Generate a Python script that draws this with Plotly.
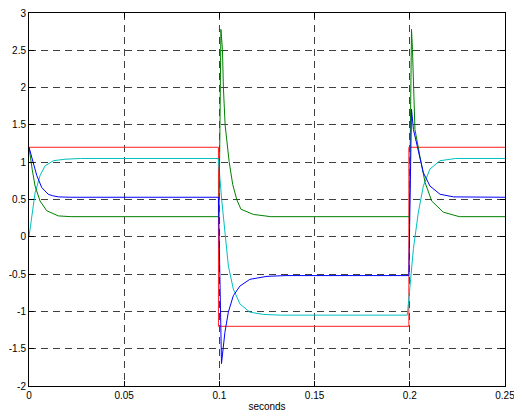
import plotly.graph_objects as go

# ---- data ----
red_t = [0.0, 0.0995, 0.1995, 0.25]
red_v = [1.2, -1.2, 1.2, 1.2]

blue_t = [0.0, 0.0012, 0.0023, 0.0041, 0.0067, 0.0101, 0.0125, 0.0154, 0.022, 0.03, 0.0995,
          0.1011, 0.1020, 0.1029, 0.1047, 0.1073, 0.1108, 0.116, 0.125, 0.135, 0.1995,
          0.2009, 0.2019, 0.2045, 0.2071, 0.2106, 0.2159, 0.223, 0.235, 0.25]
blue_v = [1.2, 1.09, 0.99, 0.82, 0.66, 0.57, 0.55, 0.535, 0.53, 0.53, 0.53,
          -1.70, -1.47, -1.28, -1.01, -0.79, -0.66, -0.57, -0.53, -0.52, -0.52,
          1.71, 1.44, 1.13, 0.86, 0.68, 0.57, 0.535, 0.53, 0.53]

green_t = [0.0, 0.0008, 0.0017, 0.0032, 0.0058, 0.0093, 0.0154, 0.022, 0.0998,
           0.1008, 0.1016, 0.1021, 0.103, 0.1051, 0.1070, 0.1091, 0.1113, 0.1178, 0.127, 0.1998,
           0.2009, 0.2014, 0.2021, 0.2027, 0.2053, 0.208, 0.2115, 0.2176, 0.226, 0.25]
green_v = [1.2, 1.04, 0.9, 0.68, 0.48, 0.35, 0.28, 0.27, 0.27,
           2.78, 2.51, 2.0, 1.5, 1.01, 0.70, 0.5, 0.37, 0.30, 0.27, 0.27,
           2.78, 2.51, 2.0, 1.44, 1.08, 0.73, 0.48, 0.33, 0.27, 0.27]

cyan_t = [0.0, 0.0014, 0.0032, 0.0058, 0.0084, 0.0128, 0.0189, 0.027, 0.0994,
          0.1012, 0.1029, 0.1047, 0.1073, 0.1108, 0.116, 0.123, 0.132, 0.1987,
          0.2019, 0.2045, 0.2071, 0.2106, 0.2159, 0.224, 0.25]
cyan_v = [0.0, 0.28, 0.59, 0.82, 0.95, 1.02, 1.04, 1.05, 1.05,
          0.50, 0.06, -0.39, -0.70, -0.90, -1.01, -1.04, -1.05, -1.05,
          -0.16, 0.33, 0.68, 0.91, 1.02, 1.05, 1.05]

x_ticks = [0, 0.05, 0.1, 0.15, 0.2, 0.25]
x_labels = ["0", "0.05", "0.1", "0.15", "0.2", "0.25"]
y_ticks = [-2, -1.5, -1, -0.5, 0, 0.5, 1, 1.5, 2, 2.5, 3]
y_labels = ["-2", "-1.5", "-1", "-0.5", "0", "0.5", "1", "1.5", "2", "2.5", "3"]

fig = go.Figure()
fig.add_trace(go.Scatter(x=red_t, y=red_v, mode="lines", line=dict(color="#ff2020", width=1, shape="hv")))
fig.add_trace(go.Scatter(x=cyan_t, y=cyan_v, mode="lines", line=dict(color="#00bfbf", width=1)))
fig.add_trace(go.Scatter(x=green_t, y=green_v, mode="lines", line=dict(color="#008000", width=1)))
fig.add_trace(go.Scatter(x=blue_t, y=blue_v, mode="lines", line=dict(color="#0000ff", width=1)))

axis_common = dict(
    showline=True, linecolor="black", linewidth=1, mirror="ticks",
    ticks="inside", ticklen=5, tickcolor="black",
    showgrid=True, gridcolor="rgba(0,0,0,0.75)", gridwidth=1, griddash="7px,5px",
    zeroline=False, automargin=False, ticklabeloverflow="allow",
    tickfont=dict(family="Liberation Sans, Arial", size=10, color="black"),
)

fig.update_xaxes(range=[0, 0.25], tickvals=x_ticks, ticktext=x_labels,
                 title=dict(text="seconds", font=dict(family="Liberation Sans, Arial", size=10, color="black"), standoff=2),
                 **axis_common)
fig.update_yaxes(range=[-2, 3], tickvals=y_ticks, ticktext=y_labels, **axis_common)

fig.update_layout(
    width=514, height=414,
    margin=dict(l=29, r=9, t=13, b=28),
    paper_bgcolor="white", plot_bgcolor="white",
    showlegend=False,
)

fig.write_html("out.html")
